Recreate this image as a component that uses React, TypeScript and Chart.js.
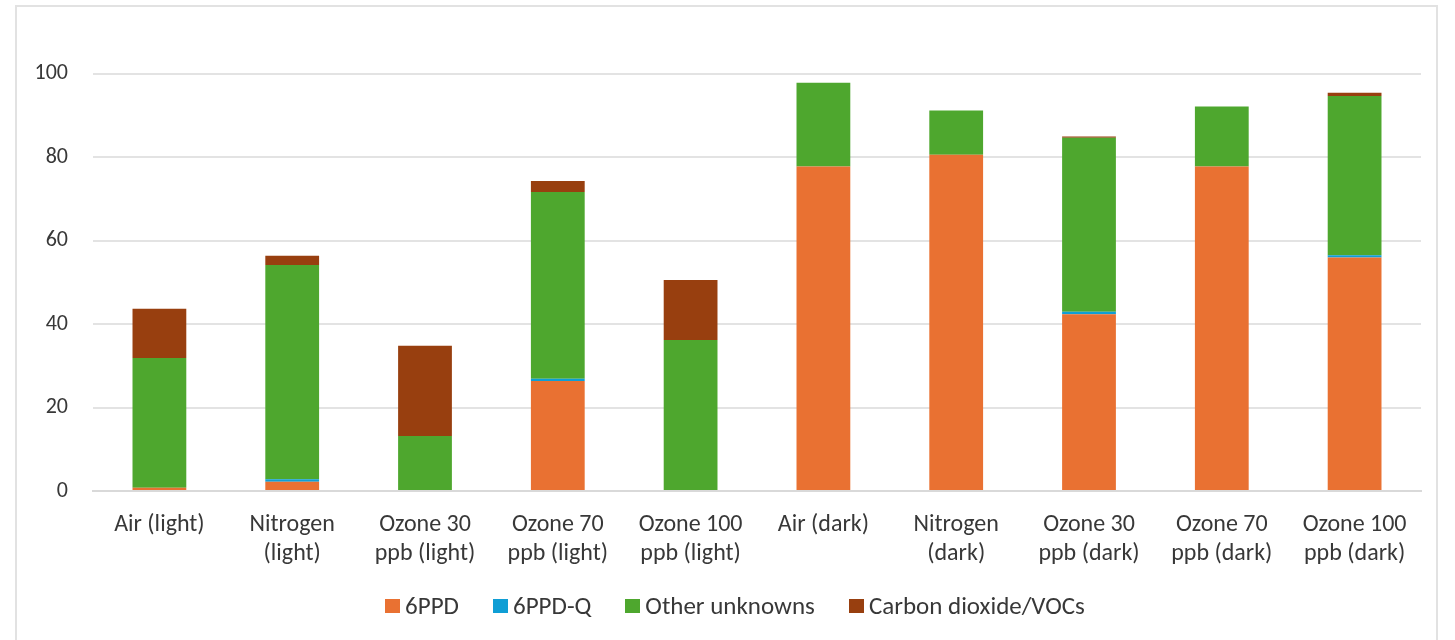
import React, { useEffect, useRef } from "react";
import { Chart, registerables } from "chart.js";

Chart.register(...registerables);

const categories: string[][] = [
  ["Air (light)"],
  ["Nitrogen", "(light)"],
  ["Ozone 30", "ppb (light)"],
  ["Ozone 70", "ppb (light)"],
  ["Ozone 100", "ppb (light)"],
  ["Air (dark)"],
  ["Nitrogen", "(dark)"],
  ["Ozone 30", "ppb (dark)"],
  ["Ozone 70", "ppb (dark)"],
  ["Ozone 100", "ppb (dark)"],
];

const seriesNames = ["6PPD", "6PPD-Q", "Other unknowns", "Carbon dioxide/VOCs"];
const ppd6 = [0.8, 2.2, 0, 26.4, 0, 77.8, 80.6, 42.4, 77.8, 56.0];
const ppd6q = [0, 0.6, 0, 0.5, 0, 0, 0, 0.6, 0, 0.5];
const otherUnknowns = [31.1, 51.4, 13.2, 44.8, 36.2, 20.1, 10.6, 41.7, 14.4, 38.2];
const co2vocs = [11.8, 2.2, 21.6, 2.6, 14.4, 0, 0, 0.3, 0, 0.8];
const yTicks = [0, 20, 40, 60, 80, 100];
const seriesColors = ["#E97132", "#0F9ED5", "#4EA72E", "#983F0F"];

const FONT = "Carlito, Lato, sans-serif";
const TEXT = "#383838";

export default function App() {
  const ref = useRef<HTMLCanvasElement | null>(null);

  useEffect(() => {
    if (!ref.current) return;
    const values = [ppd6, ppd6q, otherUnknowns, co2vocs];
    const chart = new Chart(ref.current, {
      type: "bar",
      data: {
        labels: categories,
        datasets: values.map((d, i) => ({
          label: seriesNames[i],
          data: d,
          backgroundColor: seriesColors[i],
          borderWidth: 0,
          categoryPercentage: 1,
          barPercentage: 0.405,
        })),
      },
      options: {
        responsive: false,
        animation: false,
        layout: { padding: { left: 0, right: 34, top: 28, bottom: 71 } },
        plugins: {
          tooltip: { enabled: false },
          legend: { display: false },
        },
        scales: {
          x: {
            stacked: true,
            afterFit: (s: any) => {
              s.height = 78;
            },
            grid: { display: false, drawTicks: false },
            border: { display: true, color: "#d9d9d9", width: 2 },
            ticks: {
              color: TEXT,
              padding: 20,
              maxRotation: 0,
              autoSkip: false,
              font: { family: FONT, size: 24, lineHeight: 1.2 },
            },
          },
          y: {
            stacked: true,
            min: 0,
            max: 111,
            afterFit: (s: any) => {
              s.width = 93;
              s.paddingTop = 0;
              s.paddingBottom = 0;
            },
            afterBuildTicks: (s: any) => {
              s.ticks = yTicks.map((v) => ({ value: v }));
            },
            grid: { color: "#e3e3e3", lineWidth: 2, drawTicks: false },
            border: { display: false },
            ticks: {
              color: TEXT,
              padding: 25,
              font: { family: FONT, size: 22 },
            },
          },
        },
      },
    });
    return () => chart.destroy();
  }, []);

  return (
    <div
      style={{
        position: "fixed",
        left: 0,
        top: 0,
        width: 1455,
        height: 640,
        overflow: "hidden",
        background: "#ffffff",
        fontFamily: FONT,
      }}
    >
      <div
        style={{
          position: "absolute",
          left: 15,
          top: 5,
          width: 1423,
          height: 700,
          border: "2px solid #e2e2e2",
          boxSizing: "border-box",
        }}
      />
      <canvas
        ref={ref}
        width={1455}
        height={640}
        style={{ position: "absolute", left: 0, top: 0, width: 1455, height: 640 }}
      />
      <div
        style={{
          position: "absolute",
          left: 0,
          top: 591,
          width: 1470,
          height: 30,
          display: "flex",
          justifyContent: "center",
          alignItems: "center",
          gap: 34,
          fontSize: 25,
          color: TEXT,
          whiteSpace: "nowrap",
        }}
      >
        {seriesNames.map((name, i) => (
          <div key={name} style={{ display: "flex", alignItems: "center", gap: 5 }}>
            <span
              style={{
                display: "inline-block",
                width: 15,
                height: 14,
                background: seriesColors[i],
              }}
            />
            <span style={{ lineHeight: "30px" }}>{name}</span>
          </div>
        ))}
      </div>
    </div>
  );
}
